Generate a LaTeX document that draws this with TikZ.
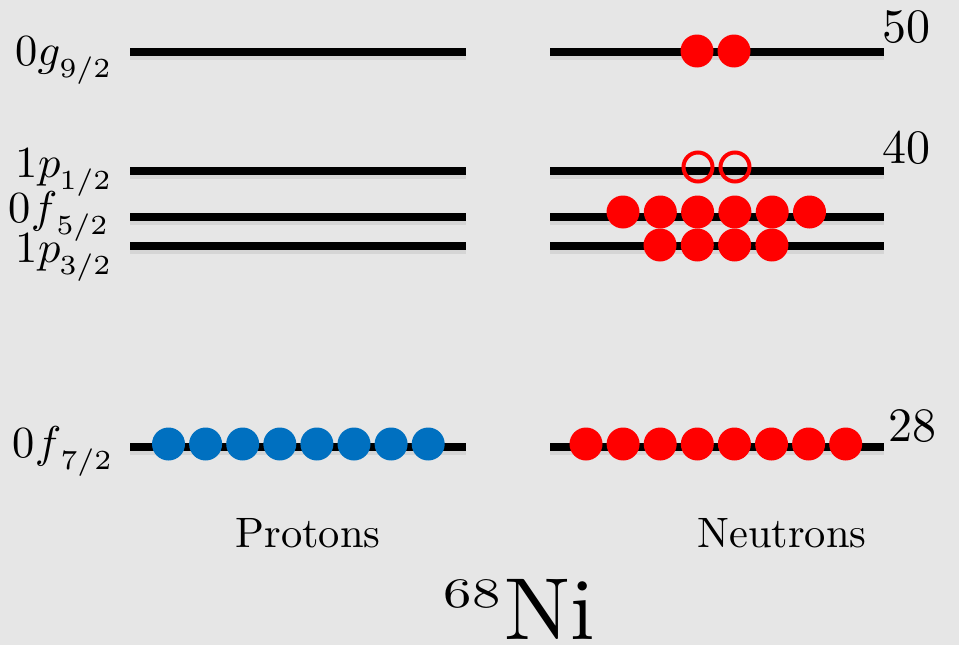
\documentclass[tikz,border=0pt]{standalone}
\usepackage{fontspec}
\usepackage{graphicx}
\definecolor{bg}{RGB}{230,230,230}
\definecolor{pblue}{RGB}{0,112,192}
\definecolor{nred}{RGB}{255,0,0}
\newcommand\shelllab[3]{#1$#2$\kern-0.2pt\raisebox{-2.7pt}{\fontsize{6.2}{7}\selectfont #3}}
\begin{document}
\begin{tikzpicture}[x=1pt,y=-1pt,
  level/.style={line width=8pt, black},
  shade/.style={line width=10pt, black, opacity=0.07, transform canvas={yshift=-2.5pt}},
  proton/.style={circle, fill=pblue, minimum size=33pt, inner sep=0pt},
  neutron/.style={circle, fill=nred, minimum size=33pt, inner sep=0pt},
  hole/.style={circle, draw=nred, line width=4pt, minimum size=29pt, inner sep=0pt},
  lab/.style={anchor=base east, inner sep=0pt, scale=4.45},
  magic/.style={anchor=base west, inner sep=0pt, scale=4.8},
  side/.style={anchor=base, inner sep=0pt, scale=4.25}]
\fill[bg] (0,0) rectangle (959,645);
\useasboundingbox (0,0) rectangle (959,645);

% level end points
\foreach \n/\y in {g/52, pa/171, fb/217, pb/246, fa/447}{
  \coordinate (L\n1) at (130,\y);
  \coordinate (L\n2) at (466,\y);
  \coordinate (R\n1) at (550,\y);
  \coordinate (R\n2) at (884,\y);
}
\foreach \n in {g, pa, fb, pb, fa}{
  \draw[shade] (L\n1) -- (L\n2);
  \draw[shade] (R\n1) -- (R\n2);
}
\foreach \n in {g, pa, fb, pb, fa}{
  \draw[level] (L\n1) -- (L\n2);
  \draw[level] (R\n1) -- (R\n2);
}

% labels
\node[lab] (lg) at (111,65) {\shelllab{0}{g}{9/2}};
\node[lab] (lpa) at (111,177) {\shelllab{1}{p}{1/2}};
\node[lab] (lfb) at (108,222) {\shelllab{0}{f}{5/2}};
\node[lab] (lpb) at (111,262) {\shelllab{1}{p}{3/2}};
\node[lab] (lfa) at (112,457) {\shelllab{0}{f}{7/2}};

% magic numbers
\node[magic] (m50) at (882,42) {50};
\node[magic] (m40) at (882,163) {40};
\node[magic] (m28) at (888,441) {28};

% protons 0f7/2
\foreach \k in {0,...,7}{
  \node[proton] (p\k) at ({168.5+37.1*\k},444) {};
}
% neutrons 0f7/2
\foreach \k in {0,...,7}{
  \node[neutron] (nf\k) at ({586+37.1*\k},444) {};
}
% neutrons 1p3/2
\foreach \k in {0,...,3}{
  \node[neutron] (npb\k) at ({660+37.3*\k},245) {};
}
% neutrons 0f5/2
\foreach \k in {0,...,5}{
  \node[neutron] (nfb\k) at ({623+37.3*\k},212) {};
}
% holes 1p1/2
\node[hole] (h0) at (698,167) {};
\node[hole] (h1) at (735,167) {};
% neutrons 0g9/2
\node[neutron] (ng0) at (697,51) {};
\node[neutron] (ng1) at (734,51) {};

% bottom texts
\node[side] (prot) at (308,547) {Protons};
\node[side] (neut) at (782,547) {Neutrons};
\node[anchor=base west, inner sep=0pt, scale=8.8] (ni) at (503,639) {Ni};
\node[anchor=base west, inner sep=0pt, scale=4.2] (a68) at (443,607) {\scalebox{1.35}[1]{68}};
\end{tikzpicture}
\end{document}
